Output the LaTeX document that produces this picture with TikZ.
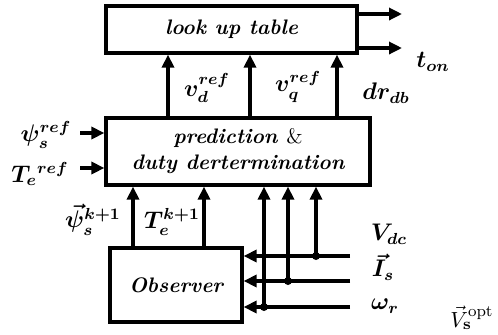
\documentclass[tikz,border=0pt]{standalone}
\usetikzlibrary{arrows.meta,positioning}
\tikzset{
  blkbox/.style={draw, line width=1.6pt, align=center, inner sep=0pt,
                 font=\fontsize{10.5}{13}\selectfont\bfseries\itshape},
  sig/.style={-{Triangle[length=6.5pt,width=6pt]}, line width=1.6pt},
  lbl/.style={font=\fontsize{11.5}{13}\selectfont\boldmath, inner sep=0pt},
  tap/.style={circle, fill, inner sep=0pt, minimum size=4pt},
}
\begin{document}
\begin{tikzpicture}[x=0.5pt,y=-0.5pt]
    \useasboundingbox (0,0) rectangle (498,334);
    % blocos
    \node[blkbox, minimum width=125.5pt, minimum height=23.5pt] (lut) at (231.5,29.5) {look up table};
    \node[blkbox, minimum width=132pt, minimum height=33.5pt] (pred) at (238,151.5) {prediction {\normalfont\&}\\duty dertermination};
    \node[blkbox, minimum width=66pt, minimum height=37pt] (obs) at (176,285) {Observer};
    % pontos auxiliares
    \coordinate (xvd) at (168,0);
    \coordinate (xvq) at (250,0);
    \coordinate (xdr) at (337,0);
    \coordinate (out1) at (402,14);
    \coordinate (out2) at (402,48);
    \coordinate (inpsi) at (80,133);
    \coordinate (inte) at (80,168);
    \coordinate (xpsi) at (133,0);
    \coordinate (xte) at (204,0);
    \coordinate (invdc) at (350,256);
    \coordinate (inis) at (350,281);
    \coordinate (inwr) at (350,307);
    \coordinate (xvdc) at (316,0);
    \coordinate (xis) at (288,0);
    \coordinate (xwr) at (264,0);
    % sinais para a tabela
    \draw[sig] (pred.north -| xvd) -- (lut.south -| xvd);
    \draw[sig] (pred.north -| xvq) -- (lut.south -| xvq);
    \draw[sig] (pred.north -| xdr) -- (lut.south -| xdr);
    \draw[sig] (lut.east |- out1) -- (out1);
    \draw[sig] (lut.east |- out2) -- (out2);
    % referencias
    \draw[sig] (inpsi) -- (pred.west |- inpsi);
    \draw[sig] (inte) -- (pred.west |- inte);
    % observador
    \draw[sig] (obs.north -| xpsi) -- (pred.south -| xpsi);
    \draw[sig] (obs.north -| xte) -- (pred.south -| xte);
    % medidas
    \draw[sig] (invdc) -- (obs.east |- invdc);
    \draw[sig] (inis) -- (obs.east |- inis);
    \draw[sig] (inwr) -- (obs.east |- inwr);
    \node[tap] (tvdc) at (xvdc |- invdc) {};
    \node[tap] (tis) at (xis |- inis) {};
    \node[tap] (twr) at (xwr |- inwr) {};
    \draw[sig] (tvdc.center) -- (pred.south -| xvdc);
    \draw[sig] (tis.center) -- (pred.south -| xis);
    \draw[sig] (twr.center) -- (pred.south -| xwr);
    % rotulos
    \node[lbl] (lvd) at (207,88) {$v_d^{ref}$};
    \node[lbl] (lvq) at (298,87) {$v_q^{ref}$};
    \node[lbl] (ldr) at (386,93) {$dr_{db}$};
    \node[lbl] (lton) at (433,62) {$t_{on}$};
    \node[lbl] (lpsi) at (46,135) {$\psi_s^{ref}$};
    \node[lbl] (lte) at (40,174) {$T_e{}^{ref}$};
    \node[lbl] (lpsik) at (93,220) {$\vec{\psi}_s^{k+1}$};
    \node[lbl] (ltek) at (172,222) {$T_e^{k+1}$};
    \node[lbl] (lvdc) at (389,234) {$V_{dc}$};
    \node[lbl] (lis) at (383,267) {$\vec{I}_s$};
    \node[lbl] (lwr) at (385,306) {$\omega_r$};
    \node[inner sep=0pt, font=\fontsize{11}{13}\selectfont] (lvopt) at (472,318) {$\vec{V}_{\mathbf{s}}^{\mathrm{opt}}$};
\end{tikzpicture}
\end{document}
